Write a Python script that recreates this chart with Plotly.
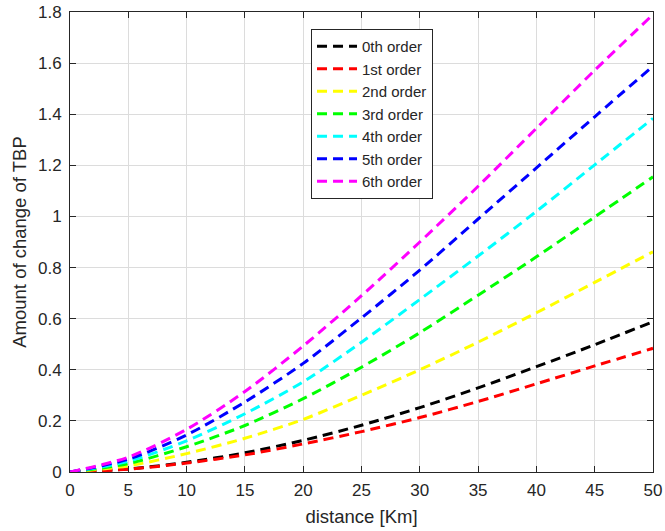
import plotly.graph_objects as go

distance = [0, 5, 10, 15, 20, 25, 30, 35, 40, 45, 50]
order0 = [0, 0.012, 0.038, 0.075, 0.124, 0.183, 0.252, 0.329, 0.412, 0.498, 0.588]
order1 = [0, 0.011, 0.035, 0.067, 0.11, 0.158, 0.213, 0.276, 0.345, 0.415, 0.484]
order2 = [0, 0.024, 0.072, 0.132, 0.206, 0.30, 0.40, 0.508, 0.623, 0.742, 0.862]
order3 = [0, 0.033, 0.099, 0.182, 0.287, 0.41, 0.545, 0.692, 0.842, 0.998, 1.155]
order4 = [0, 0.042, 0.122, 0.228, 0.353, 0.508, 0.675, 0.845, 1.02, 1.202, 1.384]
order5 = [0, 0.05, 0.145, 0.274, 0.425, 0.603, 0.79, 0.99, 1.19, 1.39, 1.588]
order6 = [0, 0.058, 0.167, 0.315, 0.493, 0.69, 0.90, 1.118, 1.345, 1.572, 1.79]

names = ["0th order", "1st order", "2nd order", "3rd order", "4th order", "5th order", "6th order"]
series = [order0, order1, order2, order3, order4, order5, order6]
colors = ["#000000", "#ff0000", "#ffff00", "#00ff00", "#00ffff", "#0000ff", "#ff00ff"]

x_ticks = [0, 5, 10, 15, 20, 25, 30, 35, 40, 45, 50]
y_ticks = [0, 0.2, 0.4, 0.6, 0.8, 1.0, 1.2, 1.4, 1.6, 1.8]
y_ticklabels = ["0", "0.2", "0.4", "0.6", "0.8", "1", "1.2", "1.4", "1.6", "1.8"]

FONT = "Liberation Sans, Arial, Helvetica, sans-serif"
TXT = "#262626"

fig = go.Figure()
for n, s, c in zip(names, series, colors):
    fig.add_trace(go.Scatter(x=distance, y=s, mode="lines", name=n,
                             line=dict(color=c, width=3, dash="10px,6px",
                                       shape="spline", smoothing=0.8)))

axis_common = dict(showline=True, linecolor=TXT, linewidth=1, mirror="ticks",
                   ticks="inside", ticklen=6, tickcolor=TXT,
                   showgrid=True, gridcolor="#dcdcdc", gridwidth=1, zeroline=False,
                   automargin=False,
                   tickfont=dict(family=FONT, size=17, color=TXT))

fig.update_xaxes(range=[0, 50], tickvals=x_ticks, ticklabelstandoff=3,
                 title=dict(text="distance [Km]", font=dict(family=FONT, size=18.5, color=TXT), standoff=10),
                 **axis_common)
fig.update_yaxes(range=[0, 1.8], tickvals=y_ticks, ticktext=y_ticklabels, ticklabelstandoff=4,
                 title=dict(text="Amount of change of TBP", font=dict(family=FONT, size=18.5, color=TXT), standoff=6),
                 **axis_common)

fig.update_layout(
    width=665, height=531,
    margin=dict(l=70, r=12, t=12, b=59),
    paper_bgcolor="white", plot_bgcolor="white",
    showlegend=True,
    legend=dict(x=0.4134, y=0.963, xanchor="left", yanchor="top",
                bgcolor="white", bordercolor=TXT, borderwidth=1,
                font=dict(family=FONT, size=15, color=TXT),
                tracegroupgap=0, itemwidth=40),
)

fig.write_html("out.html", config={"displayModeBar": False},
               post_script="document.body.style.margin='0px';")
